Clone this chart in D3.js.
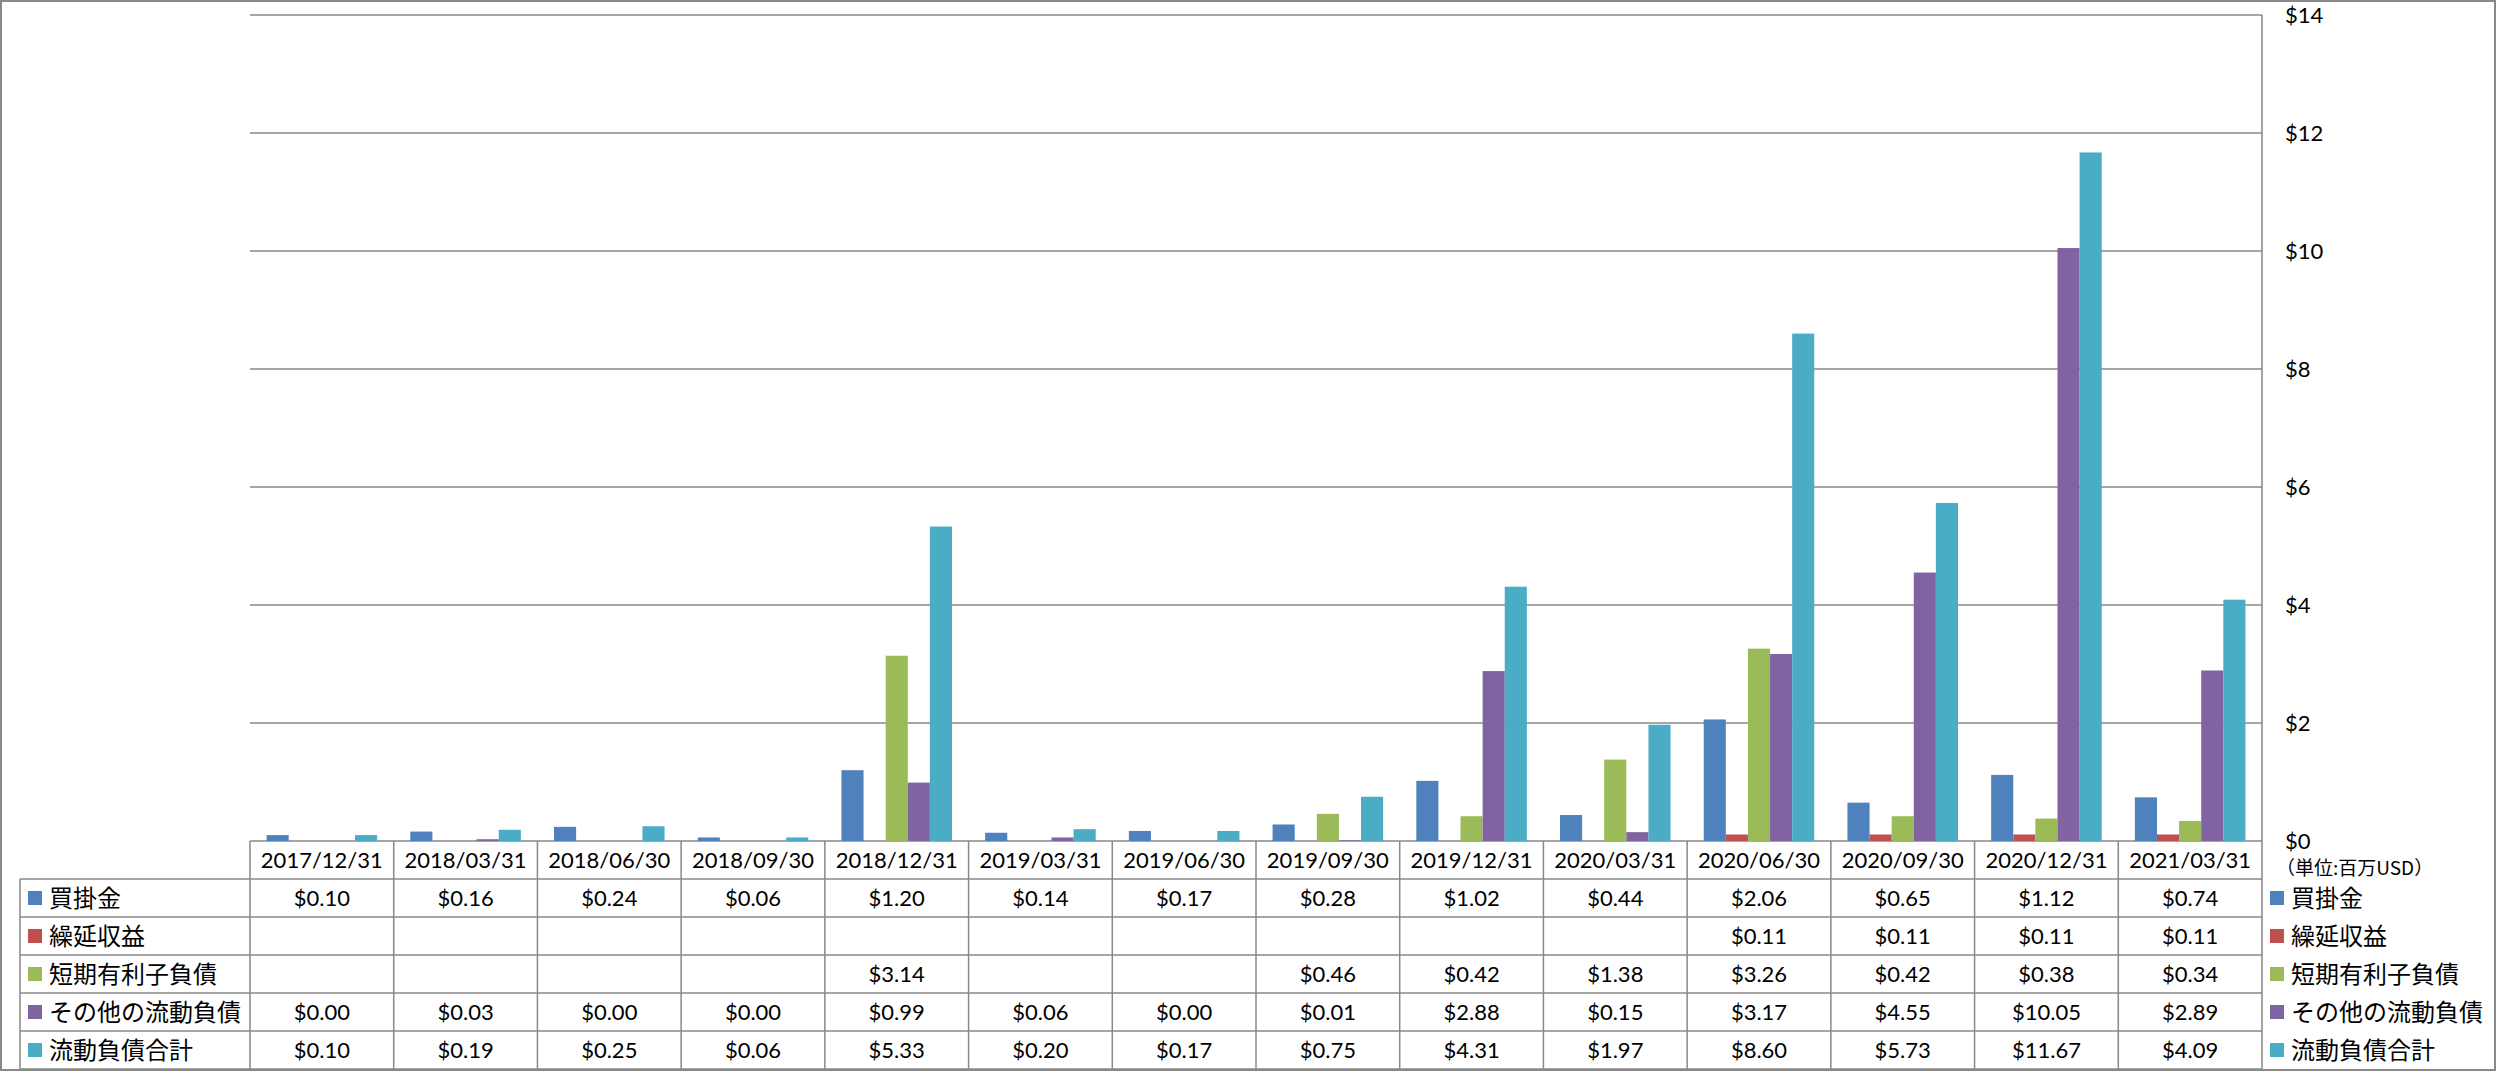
<!DOCTYPE html>
<html>
<head>
<meta charset="utf-8">
<script src="https://cdn.jsdelivr.net/npm/d3@7"></script>
<style>
    body { margin: 0; background: #fff; }
    .num { font-family: Lato, "Open Sans", sans-serif; font-size: 22px; fill: #000; }
    .jp { font-family: "Noto Sans CJK JP", sans-serif; font-size: 24px; fill: #000; }
</style>
</head>
<body>
<svg id="chart" width="2496" height="1071"></svg>
<script>
let dates = ["2017/12/31","2018/03/31","2018/06/30","2018/09/30","2018/12/31","2019/03/31","2019/06/30",
    "2019/09/30","2019/12/31","2020/03/31","2020/06/30","2020/09/30","2020/12/31","2021/03/31"];
let seriesNames = ["買掛金","繰延収益","短期有利子負債","その他の流動負債","流動負債合計"];
let kaikake = [0.10,0.16,0.24,0.06,1.20,0.14,0.17,0.28,1.02,0.44,2.06,0.65,1.12,0.74];
let kurinobe = [null,null,null,null,null,null,null,null,null,null,0.11,0.11,0.11,0.11];
let tanki = [null,null,null,null,3.14,null,null,0.46,0.42,1.38,3.26,0.42,0.38,0.34];
let sonota = [0.00,0.03,0.00,0.00,0.99,0.06,0.00,0.01,2.88,0.15,3.17,4.55,10.05,2.89];
let goukei = [0.10,0.19,0.25,0.06,5.33,0.20,0.17,0.75,4.31,1.97,8.60,5.73,11.67,4.09];
let yTicks = [0,2,4,6,8,10,12,14];
let unitLabel = "（単位:百万USD）";

let colors = ["#4F81BD","#C0504D","#9BBB59","#8064A2","#4BACC6"];
let lineColor = "#898989";

let series = [kaikake, kurinobe, tanki, sonota, goukei].map((vals, i) => ({
    name: seriesNames[i],
    color: colors[i],
    values: vals
}));

let svg = d3.select("#chart");

let plotLeft = 250, plotRight = 2262, plotTop = 15, plotBottom = 841;
let rowH = 38;
let tableLeft = 20;
let headerBottom = plotBottom + rowH;
let tableBottom = headerBottom + rowH * series.length;

let x = d3.scaleBand()
    .domain(dates)
    .range([plotLeft, plotRight]);

let xInner = d3.scaleBand()
    .domain(seriesNames)
    .range([0, x.bandwidth()])
    .paddingInner(0)
    .paddingOuter(0.75);

let y = d3.scaleLinear()
    .domain([0, 14])
    .range([plotBottom, plotTop]);

// outer frame
svg.append("rect")
    .attr("x", 1).attr("y", 1)
    .attr("width", 2494).attr("height", 1069)
    .attr("fill", "none")
    .attr("stroke", lineColor)
    .attr("stroke-width", 2);

// gridlines
svg.selectAll(".grid")
    .data(yTicks)
    .enter().append("line")
    .attr("x1", plotLeft).attr("x2", plotRight)
    .attr("y1", d => y(d)).attr("y2", d => y(d))
    .attr("stroke", lineColor)
    .attr("stroke-width", 1.5);

// bars
let groups = svg.selectAll(".grp")
    .data(series)
    .enter().append("g")
    .attr("fill", d => d.color);

groups.selectAll("rect")
    .data(s => s.values.map((v, i) => ({ name: s.name, date: dates[i], v: v })))
    .enter().append("rect")
    .filter(d => d.v !== null)
    .attr("x", d => x(d.date) + xInner(d.name))
    .attr("width", xInner.bandwidth())
    .attr("y", d => y(d.v))
    .attr("height", d => y(0) - y(d.v));

// right axis line
svg.append("line")
    .attr("x1", plotRight).attr("x2", plotRight)
    .attr("y1", plotTop).attr("y2", tableBottom)
    .attr("stroke", lineColor).attr("stroke-width", 1.5);

// right axis labels
svg.selectAll(".ytick")
    .data(yTicks)
    .enter().append("text")
    .attr("class", "num")
    .attr("x", 2285)
    .attr("y", d => y(d))
    .attr("dy", "0.36em")
    .text(d => "$" + d);

svg.append("text")
    .attr("class", "jp")
    .style("font-size", "19px")
    .attr("x", 2276)
    .attr("y", 868)
    .attr("dy", "0.36em")
    .text(unitLabel);

// data table lines
svg.selectAll(".vline")
    .data(dates.map(d => x(d)))
    .enter().append("line")
    .attr("x1", d => d).attr("x2", d => d)
    .attr("y1", plotBottom).attr("y2", tableBottom)
    .attr("stroke", lineColor).attr("stroke-width", 1.5);

svg.append("line")
    .attr("x1", tableLeft).attr("x2", tableLeft)
    .attr("y1", headerBottom).attr("y2", tableBottom)
    .attr("stroke", lineColor).attr("stroke-width", 1.5);

svg.selectAll(".hline")
    .data(d3.range(series.length + 1).map(i => headerBottom + i * rowH))
    .enter().append("line")
    .attr("x1", tableLeft).attr("x2", plotRight)
    .attr("y1", d => d).attr("y2", d => d)
    .attr("stroke", lineColor).attr("stroke-width", 1.5);

// header dates
svg.selectAll(".date")
    .data(dates)
    .enter().append("text")
    .attr("class", "num")
    .attr("x", d => x(d) + x.bandwidth() / 2)
    .attr("y", plotBottom + rowH / 2)
    .attr("dy", "0.36em")
    .attr("text-anchor", "middle")
    .text(d => d);

// rows
let rows = svg.selectAll(".row")
    .data(series)
    .enter().append("g")
    .attr("transform", (d, i) => "translate(0," + (headerBottom + i * rowH + rowH / 2) + ")");

rows.append("rect")
    .attr("x", 28).attr("y", -7)
    .attr("width", 14).attr("height", 14)
    .attr("fill", d => d.color);

rows.append("text")
    .attr("class", "jp")
    .attr("x", 49)
    .attr("dy", "0.36em")
    .text(d => d.name);

rows.selectAll(".val")
    .data(s => s.values.map((v, i) => ({ date: dates[i], v: v })))
    .enter().append("text")
    .filter(d => d.v !== null)
    .attr("class", "num")
    .attr("x", d => x(d.date) + x.bandwidth() / 2)
    .attr("dy", "0.36em")
    .attr("text-anchor", "middle")
    .text(d => "$" + d.v.toFixed(2));

// legend on the right
rows.append("rect")
    .attr("x", 2270).attr("y", -7)
    .attr("width", 14).attr("height", 14)
    .attr("fill", d => d.color);

rows.append("text")
    .attr("class", "jp")
    .attr("x", 2291)
    .attr("dy", "0.36em")
    .text(d => d.name);
</script>
</body>
</html>
